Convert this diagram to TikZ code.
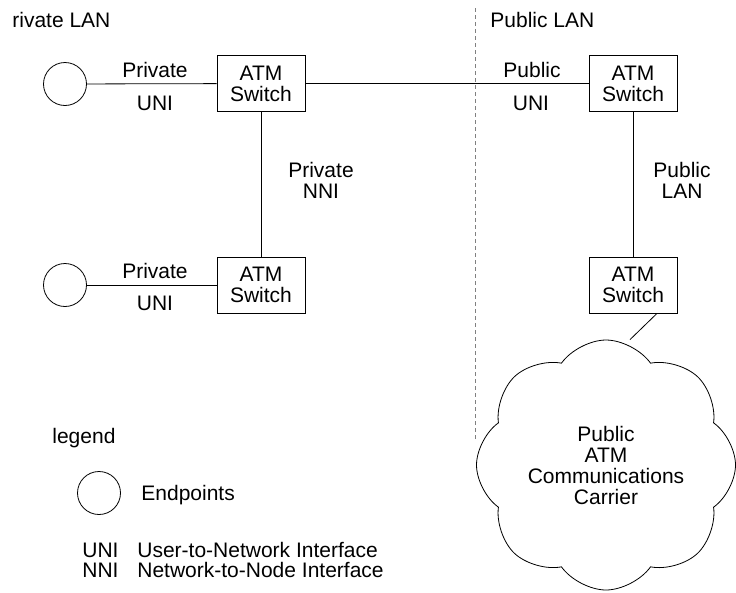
\documentclass[tikz,border=0pt]{standalone}
\usepackage{fontspec}
\setmainfont{Liberation Sans}
\usetikzlibrary{shapes.symbols}

\begin{document}
\begin{tikzpicture}[x=1pt, y=-1pt, line width=0.8pt,
    every node/.style={font=\fontsize{21}{21}\selectfont, inner sep=0pt},
    switchbox/.style={draw, align=center, minimum width=88pt, minimum height=56pt},
    endpoint/.style={draw, circle, minimum size=43pt},
    lbl/.style={anchor=base},
    lblw/.style={anchor=base west},
    divider/.style={gray, line width=0.8pt, dash pattern=on 4pt off 3pt}]
      \useasboundingbox (0,0) rectangle (736,592);
      % Private side
      \node[lblw] (privlan) at (12,27) {rivate LAN};
      \node[endpoint] (ep1) at (65,84) {};
      \node[switchbox] (privsw1) at (261,83.5) {ATM\\Switch};
      \node[lbl] (privuni1a) at (155,77) {Private};
      \node[lbl] (privuni1b) at (155,110) {UNI};
      \node[endpoint] (ep2) at (65,285) {};
      \node[switchbox] (privsw2) at (261,285) {ATM\\Switch};
      \node[lbl] (privuni2a) at (155,278) {Private};
      \node[lbl] (privuni2b) at (155,310) {UNI};
      \node[align=center] (privnni) at (321,180) {Private\\NNI};
      % Public side
      \coordinate (divtop) at (475,8);
      \coordinate (divbot) at (475,440);
      \draw[divider] (divtop) -- (divbot);
      \node[lblw] (publan) at (490,27) {Public LAN};
      \node[switchbox] (pubsw1) at (633,83.5) {ATM\\Switch};
      \node[lbl] (pubunia) at (532,77) {Public};
      \node[lbl] (pubunib) at (531,110) {UNI};
      \node[switchbox] (pubsw2) at (633,285) {ATM\\Switch};
      \node[align=center] (publanlink) at (682,180) {Public\\LAN};
      \node[cloud, draw, cloud puffs=8, cloud puff arc=110, aspect=1.04,
            minimum width=259pt, minimum height=250pt, align=center]
            (carrier) at (606,465) {Public\\ATM\\Communications\\Carrier};
      % Links
      \draw (ep1) -- (privsw1);
      \draw (privsw1) -- (pubsw1);
      \draw (privsw1) -- (privsw2);
      \draw (ep2) -- (privsw2);
      \draw (pubsw1) -- (pubsw2);
      \draw ([xshift=24pt]pubsw2.south) -- ([xshift=24pt]carrier.north);
      % Legend
      \node[lblw] (legend) at (52,443) {legend};
      \node[endpoint] (legep) at (99,493) {};
      \node[lblw] (legeptxt) at (141,500) {Endpoints};
      \node[lblw] (leguni) at (82,557) {UNI};
      \node[lblw] (legunitxt) at (137,557) {User-to-Network Interface};
      \node[lblw] (legnni) at (82,577) {NNI};
      \node[lblw] (legnnitxt) at (137,577) {Network-to-Node Interface};
    \end{tikzpicture}
\end{document}
